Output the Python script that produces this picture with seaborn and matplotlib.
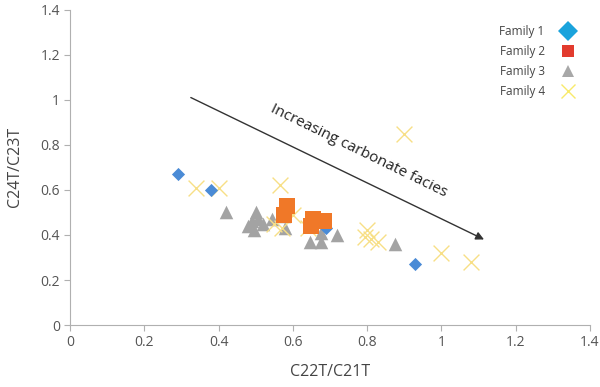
import pandas as pd
import numpy as np
import matplotlib
matplotlib.use("Agg")
import matplotlib.pyplot as plt
import seaborn as sns
from matplotlib.lines import Line2D

# values
fam1_x = [0.29, 0.38, 0.69, 0.93]
fam1_y = [0.67, 0.60, 0.43, 0.27]

fam2_x = [0.585, 0.575, 0.655, 0.685, 0.65]
fam2_y = [0.53, 0.49, 0.47, 0.46, 0.44]

fam3_x = [0.42, 0.48, 0.49, 0.50, 0.505, 0.495, 0.52, 0.545, 0.575, 0.58,
          0.645, 0.675, 0.675, 0.72, 0.875]
fam3_y = [0.50, 0.44, 0.46, 0.50, 0.47, 0.42, 0.45, 0.47, 0.485, 0.43,
          0.37, 0.41, 0.37, 0.40, 0.36]

fam4_x = [0.34, 0.40, 0.565, 0.60, 0.57, 0.64, 0.80, 0.795, 0.81, 0.83,
          0.90, 1.00, 1.08, 0.55]
fam4_y = [0.61, 0.61, 0.62, 0.49, 0.43, 0.43, 0.42, 0.39, 0.38, 0.37,
          0.85, 0.32, 0.28, 0.45]

families = ["Family 1", "Family 2", "Family 3", "Family 4"]

df = pd.concat([
    pd.DataFrame({"x": fam1_x, "y": fam1_y, "fam": "Family 1"}),
    pd.DataFrame({"x": fam2_x, "y": fam2_y, "fam": "Family 2"}),
    pd.DataFrame({"x": fam3_x, "y": fam3_y, "fam": "Family 3"}),
    pd.DataFrame({"x": fam4_x, "y": fam4_y, "fam": "Family 4"}),
], ignore_index=True)

plot_cols = {"Family 1": "#4a8bd6", "Family 2": "#f07828",
             "Family 3": "#a3a3a3", "Family 4": "#f7df86"}
legend_cols = {"Family 1": "#1aa3dc", "Family 2": "#e23b2e",
               "Family 3": "#a8a8a8", "Family 4": "#f8ea6a"}
marks = {"Family 1": "D", "Family 2": "s", "Family 3": "^", "Family 4": "x"}
sizes = {"Family 1": 45, "Family 2": 130, "Family 3": 95, "Family 4": 130}

sns.set_style("white")
plt.rcParams["font.family"] = ["Open Sans", "DejaVu Sans"]

fig = plt.figure(figsize=(6, 3.87), dpi=100)
ax = fig.add_axes([0.117, 0.160, 0.866, 0.815])

# triangles and crosses first, so diamonds/squares sit on top
for fam in ["Family 3", "Family 4", "Family 1", "Family 2"]:
    sub = df[df["fam"] == fam]
    kw = dict(linewidth=1.0) if fam == "Family 4" else dict(linewidth=0)
    sns.scatterplot(ax=ax, data=sub, x="x", y="y", color=plot_cols[fam],
                    marker=marks[fam], s=sizes[fam], legend=False, **kw)

ax.set_xlim(0, 1.4)
ax.set_ylim(0, 1.4)
ax.set_xticks(np.arange(0, 1.41, 0.2))
ax.set_yticks(np.arange(0, 1.41, 0.2))
ax.set_xticklabels(["0", "0.2", "0.4", "0.6", "0.8", "1", "1.2", "1.4"])
ax.set_yticklabels(["0", "0.2", "0.4", "0.6", "0.8", "1", "1.2", "1.4"])
ax.tick_params(axis="both", colors="#b0b0b0", labelcolor="#555555",
               labelsize=10, length=4, width=0.8, direction="out",
               bottom=True, left=True)
for sp in ["top", "right"]:
    ax.spines[sp].set_visible(False)
for sp in ["left", "bottom"]:
    ax.spines[sp].set_color("#b0b0b0")
    ax.spines[sp].set_linewidth(0.8)

ax.set_xlabel("C22T/C21T", fontsize=11.5, color="#444444", labelpad=10)
ax.set_ylabel("C24T/C23T", fontsize=11.5, color="#444444", labelpad=12)

# trend arrow
ax.annotate("", xy=(1.115, 0.38), xytext=(0.325, 1.01),
            arrowprops=dict(arrowstyle="-|>", color="#333333", lw=1.0,
                            mutation_scale=12, shrinkA=0, shrinkB=0))
ax.text(0.778, 0.775, "Increasing carbonate facies", rotation=-26,
        ha="center", va="center", fontsize=11, color="#222222")

handles = []
for fam in families:
    if fam == "Family 4":
        h = Line2D([], [], linestyle="none", marker="x", color=legend_cols[fam],
                   markersize=10, markeredgewidth=1.0)
    else:
        ms = {"Family 1": 10, "Family 2": 9, "Family 3": 9}[fam]
        h = Line2D([], [], linestyle="none", marker=marks[fam],
                   color=legend_cols[fam], markeredgewidth=0, markersize=ms)
    handles.append(h)
leg = ax.legend(handles, families, loc="upper right", bbox_to_anchor=(0.995, 0.985),
                frameon=False, markerfirst=False, fontsize=8.5,
                handletextpad=1.2, handlelength=1.5, labelspacing=0.6)
for t in leg.get_texts():
    t.set_color("#444444")

fig.savefig("out.png", dpi=100)
